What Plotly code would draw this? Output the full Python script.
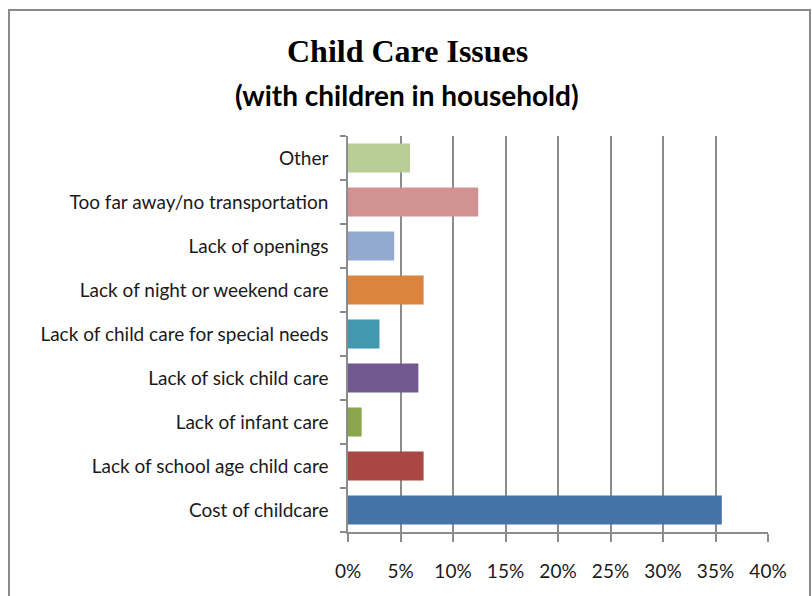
import plotly.graph_objects as go

# Survey responses: child care problems reported by households with children
categories = [
    "Cost of childcare",
    "Lack of school age child care",
    "Lack of infant care",
    "Lack of sick child care",
    "Lack of child care for special needs",
    "Lack of night or weekend care",
    "Lack of openings",
    "Too far away/no transportation",
    "Other",
]
shares = [0.356, 0.072, 0.013, 0.067, 0.030, 0.072, 0.044, 0.124, 0.059]
bar_colors = [
    "#4572A7", "#AA4643", "#89A54E", "#71588F", "#4198AF",
    "#DB843D", "#93A9CF", "#D19392", "#B9CD96",
]
tick_vals = [0, 0.05, 0.10, 0.15, 0.20, 0.25, 0.30, 0.35, 0.40]
tick_text = ["0%", "5%", "10%", "15%", "20%", "25%", "30%", "35%", "40%"]

W, H = 812, 596
L, R, T, B = 348, 44, 136, 64
pw, ph = W - L - R, H - T - B


def px_x(x):
    return (x - L) / pw


def px_y(y):
    return (H - B - y) / ph


fig = go.Figure(
    go.Bar(
        x=shares,
        y=categories,
        orientation="h",
        marker=dict(color=bar_colors, line=dict(width=0)),
        hoverinfo="skip",
    )
)

grid_col = "#8C8C8C"
label_font = dict(family="Lato", size=19, color="#1a1a1a")
fig.update_layout(
    width=W,
    height=H,
    margin=dict(l=L, r=R, t=T, b=B, pad=0),
    paper_bgcolor="white",
    plot_bgcolor="white",
    bargap=0.34,
    showlegend=False,
    font=label_font,
    xaxis=dict(
        range=[0, 0.40],
        tickvals=tick_vals,
        ticktext=tick_text,
        showgrid=True,
        gridcolor=grid_col,
        gridwidth=1.5,
        zeroline=False,
        showline=True,
        linecolor=grid_col,
        linewidth=1.5,
        ticks="outside",
        ticklen=8,
        tickwidth=1.5,
        tickcolor=grid_col,
        ticklabelstandoff=13,
        tickfont=label_font,
        fixedrange=True,
    ),
    yaxis=dict(
        type="category",
        showgrid=False,
        showline=True,
        linecolor=grid_col,
        linewidth=1.5,
        ticks="outside",
        tickson="boundaries",
        ticklen=6,
        tickwidth=1.5,
        tickcolor=grid_col,
        ticklabelstandoff=14,
        tickfont=label_font,
        fixedrange=True,
    ),
    shapes=[
        dict(
            type="rect",
            xref="paper",
            yref="paper",
            x0=px_x(9),
            x1=px_x(810),
            y0=px_y(640),
            y1=px_y(10),
            line=dict(color="#8A8A8A", width=2),
            fillcolor="rgba(0,0,0,0)",
            layer="below",
        )
    ],
    annotations=[
        dict(
            text="<b>Child Care Issues</b>",
            xref="paper",
            yref="paper",
            x=px_x(407),
            y=px_y(51),
            xanchor="center",
            yanchor="middle",
            showarrow=False,
            font=dict(family="Liberation Serif", size=32, color="black"),
        ),
        dict(
            text="<b>(with children in household)</b>",
            xref="paper",
            yref="paper",
            x=px_x(407),
            y=px_y(95),
            xanchor="center",
            yanchor="middle",
            showarrow=False,
            font=dict(family="Lato", size=28, color="black"),
        ),
    ],
)

fig.write_html("out.html", config={"displayModeBar": False})
